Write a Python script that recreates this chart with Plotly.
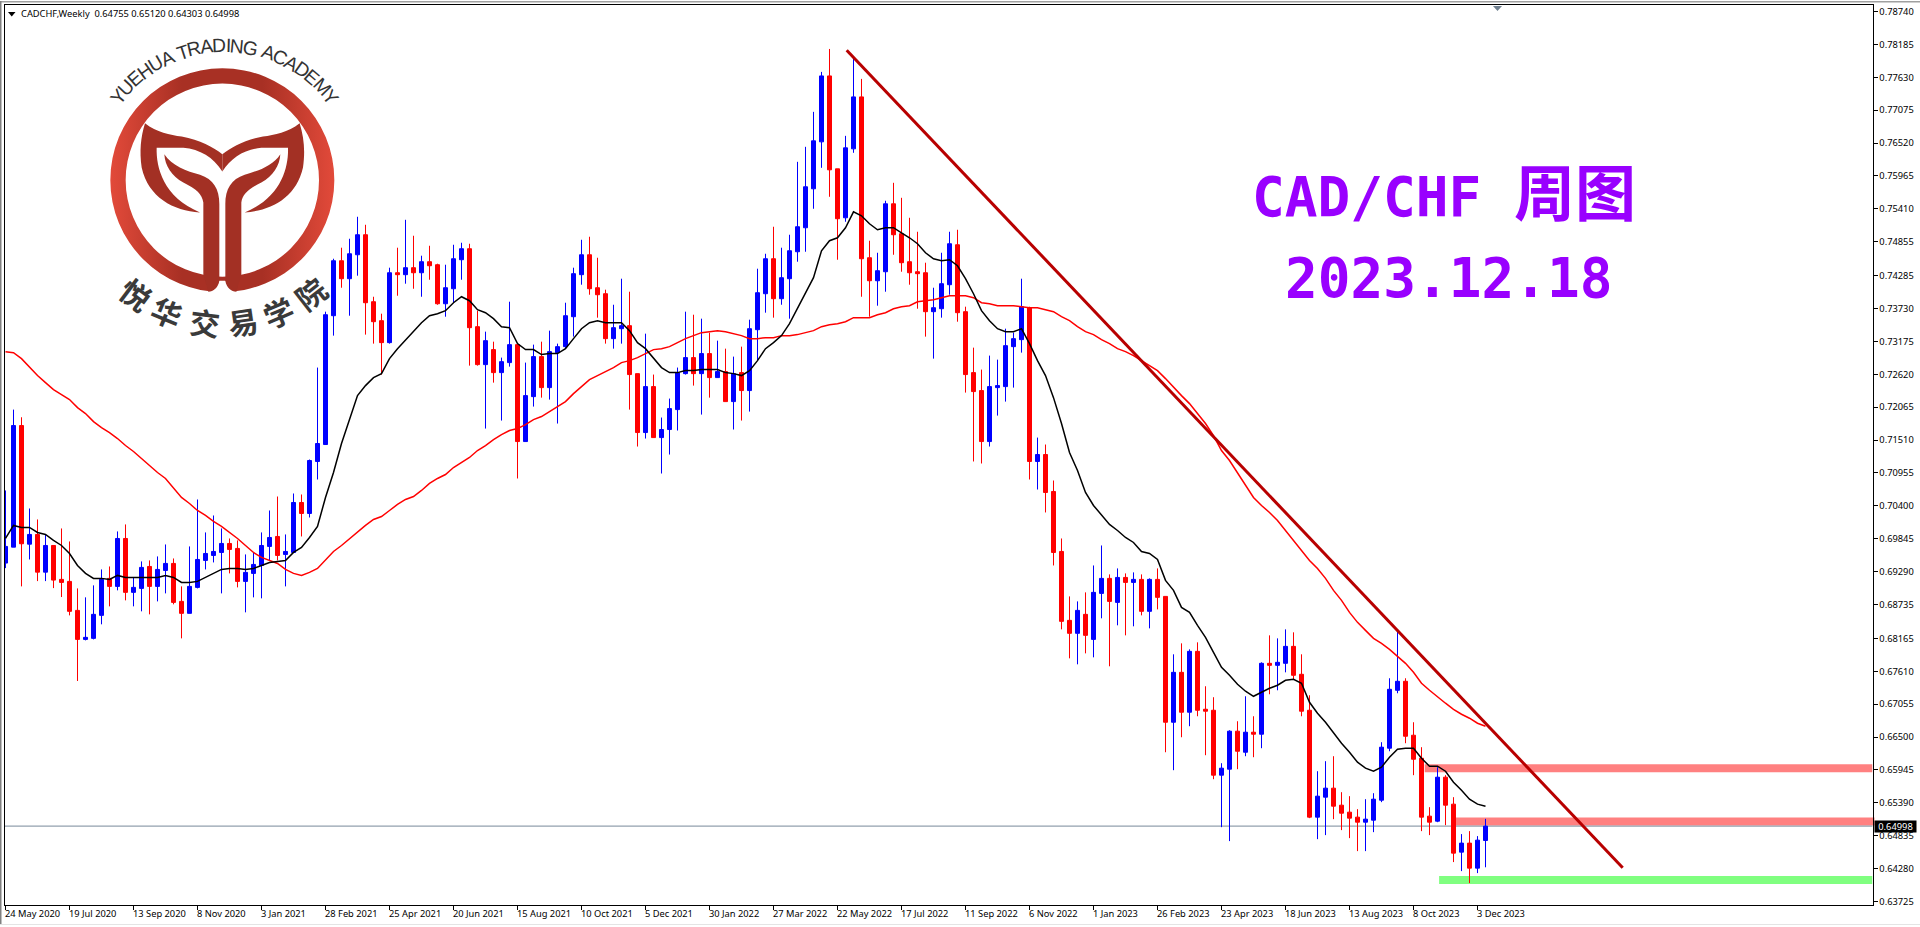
import math
import urllib.parse
import plotly.graph_objects as go

W, H = 1920, 927
K = 1.0033  # vertical calibration of the rendered page against the reference

symbol_header = "CADCHF,Weekly  0.64755 0.65120 0.64303 0.64998"
title_pair = "CAD/CHF"
title_cn = "周图"
title_date = "2023.12.18"
logo_en = "YUEHUA TRADING ACADEMY"
logo_cn = "悦华交易学院"

week_labels = ["24 May 2020","19 Jul 2020","13 Sep 2020","8 Nov 2020","3 Jan 2021","28 Feb 2021","25 Apr 2021","20 Jun 2021",
               "15 Aug 2021","10 Oct 2021","5 Dec 2021","30 Jan 2022","27 Mar 2022","22 May 2022","17 Jul 2022","11 Sep 2022",
               "6 Nov 2022","1 Jan 2023","26 Feb 2023","23 Apr 2023","18 Jun 2023","13 Aug 2023","8 Oct 2023","3 Dec 2023"]
price_ticks = [.78740,.78185,.77630,.77075,.76520,.75965,.75410,.74855,.74285,.73730,.73175,.72620,.72065,.71510,
               .70955,.70400,.69845,.69290,.68735,.68165,.67610,.67055,.66500,.65945,.65390,.64835,.64280,.63725]

opens = [.69435,.69704,.71755,.69754,.69918,.69282,.69732,.69160,.69126,.68637,
.68148,.68165,.68553,.69177,.69042,.69850,.68941,.69008,.69378,.69042,
.69311,.69429,.68789,.68587,.69025,.69480,.69564,.69614,.69766,.69682,
.69126,.69261,.69395,.69716,.69884,.69581,.69614,.70457,.70272,.71149,
.71435,.73608,.74535,.74232,.74636,.74974,.73844,.73524,.73154,.74333,
.74300,.74418,.74333,.74519,.74468,.73810,.74063,.74552,.74738,.73423,
.72783,.73036,.72648,.72817,.73120,.71485,.72243,.72918,.72395,.72985,
.73086,.73591,.74300,.74636,.74080,.73979,.73221,.73389,.73440,.72631,
.71637,.72412,.71552,.71688,.72024,.72631,.72901,.72631,.72969,.72564,
.72665,.72159,.72648,.72345,.73372,.73979,.74569,.73895,.74232,.74687,
.75092,.75749,.76541,.77653,.76086,.75260,.76423,.77299,.74586,.74198,
.74350,.75496,.74991,.74519,.74350,.74333,.73676,.73726,.74131,.74805,
.73676,.72648,.72345,.71485,.72395,.72412,.73086,.73204,.73743,.71149,
.71266,.70643,.69631,.68469,.68250,.68570,.68148,.68924,.69177,.68772,
.69193,.69109,.69160,.68621,.69160,.68873,.66750,.67592,.66919,.67946,
.66969,.66952,.65857,.65958,.66599,.66244,.66582,.66548,.67744,.67710,
.67744,.68030,.67559,.66952,.65149,.65486,.65638,.65351,.65233,.65149,
.65064,.65098,.65435,.66312,.67289,.67441,.66531,.66143,.65166,.65081,
.65823,.65368,.64559,.64711,.64289,.64755]

highs = [.70660,.72024,.71895,.70356,.70171,.69918,.69732,.70019,.69800,.69008,
.68857,.69059,.69328,.69378,.69969,.70087,.69193,.69463,.69480,.69547,
.69749,.69513,.69042,.69716,.70508,.69952,.70238,.70019,.69850,.69817,
.69581,.69614,.69952,.70322,.70558,.69918,.70609,.70592,.71182,.72733,
.73676,.74569,.74755,.74906,.75277,.75142,.73928,.73642,.74418,.74755,
.75226,.74957,.74620,.74788,.74485,.74468,.74805,.74839,.74822,.73693,
.73339,.73170,.72901,.73844,.73120,.72817,.73120,.73170,.73356,.73137,
.73827,.74418,.74889,.74940,.74586,.74047,.73793,.74232,.74013,.72631,
.73305,.72615,.71890,.72210,.72733,.73676,.73625,.73558,.73322,.73187,
.73052,.72918,.73086,.73541,.74401,.74653,.75109,.74755,.74974,.76204,
.76457,.77047,.77721,.78108,.76086,.76642,.77957,.77603,.74873,.74670,
.75547,.75850,.75597,.75260,.75024,.74502,.74080,.74670,.75024,.75058,
.73760,.73069,.72699,.72935,.72867,.73389,.73322,.74232,.73760,.71552,
.71435,.70828,.69850,.68873,.68789,.68941,.69395,.69732,.69244,.69345,
.69261,.69278,.69244,.69177,.69345,.68873,.67896,.68081,.67980,.68098,
.67357,.67172,.66059,.66615,.66767,.67188,.66851,.67761,.68216,.68165,
.68317,.68267,.67896,.67205,.65924,.66093,.66177,.65570,.65503,.65284,
.65452,.65553,.66413,.67492,.68300,.67492,.66750,.66329,.65317,.65992,
.65857,.65486,.64863,.64913,.64829,.65120]

lows = [.69350,.69704,.69042,.69496,.69131,.69131,.69013,.68862,.68553,.67446,
.68131,.68148,.68402,.68705,.68975,.68806,.68705,.68621,.68570,.68789,
.68924,.68739,.68165,.68587,.69008,.69328,.69446,.68924,.69261,.69025,
.68604,.68857,.68840,.69480,.69480,.69042,.69614,.69884,.70204,.70845,
.71427,.73272,.74080,.73608,.74283,.73289,.73137,.72615,.73137,.73945,
.74148,.74063,.73928,.74215,.73793,.73591,.73827,.74215,.72766,.72766,
.71704,.72479,.71839,.72749,.70862,.71485,.72075,.72226,.72193,.71789,
.73052,.73255,.74131,.73962,.73575,.73137,.73052,.73137,.72024,.71401,
.71536,.71552,.70946,.71266,.71671,.72615,.72429,.71940,.72226,.72564,
.72159,.71688,.71839,.71991,.72850,.73659,.73575,.73793,.73558,.74519,
.74687,.75412,.76103,.75614,.74552,.75193,.76356,.73928,.73591,.73777,
.74013,.74636,.74350,.74131,.73726,.73255,.72884,.73575,.73962,.73507,
.72311,.71149,.71115,.71401,.71923,.72159,.72395,.72985,.70845,.70676,
.70289,.69395,.68317,.67828,.67727,.67912,.67845,.68503,.67694,.68385,
.68216,.68368,.68553,.68334,.68654,.66244,.65941,.66497,.66683,.66851,
.66194,.65789,.64980,.64745,.65958,.66177,.66160,.66312,.67222,.67289,
.67592,.67475,.66851,.65132,.64778,.64846,.65115,.64930,.64795,.64576,
.64576,.64896,.65402,.66261,.67239,.66396,.65857,.64913,.64846,.65064,
.65014,.64391,.64239,.64037,.64205,.64303]

closes = [.69716,.71755,.69761,.69918,.69282,.69732,.69148,.69109,.68621,.68148,
.68182,.68570,.69160,.69042,.69850,.68941,.69025,.69362,.69042,.69328,
.69429,.68772,.68587,.69042,.69496,.69597,.69631,.69766,.69665,.69126,
.69278,.69412,.69732,.69867,.69564,.69631,.70457,.70272,.71165,.71452,
.73625,.74535,.74232,.74653,.74974,.73827,.73507,.73154,.74333,.74300,
.74418,.74333,.74519,.74451,.73810,.74080,.74569,.74738,.73406,.72783,
.73187,.72648,.72833,.73120,.71485,.72260,.72918,.72395,.73002,.73086,
.73608,.74317,.74636,.74063,.73962,.73221,.73406,.73440,.72615,.71637,
.72412,.71552,.71688,.72041,.72648,.72901,.72631,.72969,.72564,.72665,
.72159,.72631,.72345,.73389,.73996,.74569,.73895,.74249,.74704,.75109,
.75783,.76558,.77653,.76069,.75244,.76440,.77299,.74569,.74198,.74367,
.75496,.74974,.74502,.74333,.74317,.73676,.73743,.74148,.74822,.73659,
.72615,.72328,.71485,.72412,.72429,.73103,.73221,.73760,.71149,.71266,
.70626,.69614,.68452,.68250,.68637,.68216,.68941,.69177,.68789,.69193,
.69109,.69160,.68621,.69160,.68857,.66750,.67592,.66919,.67946,.66952,
.66936,.65857,.65975,.66599,.66261,.66582,.66548,.67744,.67710,.67761,
.68030,.67542,.66936,.65149,.65503,.65638,.65334,.65216,.65132,.65064,
.65115,.65452,.66329,.67306,.67441,.66514,.66126,.65149,.65064,.65823,
.65351,.64542,.64711,.64289,.64761,.64998]

ma_fast = [.69850,.70070,.70036,.70036,.69952,.69918,.69817,.69732,.69597,.69395,
.69261,.69177,.69177,.69160,.69227,.69193,.69193,.69193,.69193,.69193,
.69227,.69193,.69109,.69109,.69126,.69193,.69261,.69328,.69345,.69345,
.69328,.69345,.69395,.69446,.69463,.69480,.69614,.69699,.69867,.70053,
.70542,.70963,.71452,.71856,.72260,.72429,.72564,.72631,.72884,.73052,
.73204,.73356,.73490,.73608,.73642,.73693,.73827,.73928,.73861,.73710,
.73659,.73558,.73423,.73406,.73137,.73036,.73036,.72952,.72969,.72969,
.73052,.73221,.73389,.73490,.73524,.73490,.73490,.73490,.73356,.73154,
.73052,.72901,.72733,.72648,.72648,.72682,.72682,.72699,.72699,.72699,
.72648,.72631,.72598,.72682,.72850,.73052,.73154,.73272,.73474,.73726,
.73979,.74249,.74704,.74873,.74923,.75092,.75361,.75294,.75159,.75058,
.75092,.75092,.75007,.74923,.74822,.74670,.74569,.74535,.74552,.74451,
.74232,.73979,.73693,.73524,.73389,.73339,.73339,.73389,.73137,.72850,
.72598,.72226,.71789,.71300,.70997,.70626,.70407,.70238,.70087,.69985,
.69867,.69783,.69631,.69597,.69496,.69143,.68975,.68688,.68604,.68385,
.68182,.67930,.67677,.67542,.67391,.67273,.67188,.67256,.67323,.67374,
.67458,.67475,.67407,.67087,.66902,.66750,.66565,.66396,.66244,.66076,
.65975,.65924,.65992,.66160,.66295,.66312,.66312,.66143,.66008,.66008,
.65924,.65739,.65604,.65452,.65368,.65334]

ma_slow = [.73002,.72985,.72884,.72733,.72598,.72479,.72362,.72277,.72193,.72058,
.71957,.71822,.71721,.71637,.71536,.71418,.71317,.71199,.71081,.70963,
.70862,.70693,.70542,.70440,.70322,.70238,.70137,.70053,.69952,.69850,
.69732,.69614,.69530,.69480,.69429,.69328,.69261,.69227,.69278,.69345,
.69480,.69631,.69732,.69850,.69952,.70070,.70171,.70221,.70322,.70424,
.70508,.70558,.70660,.70778,.70862,.70929,.71047,.71132,.71216,.71334,
.71418,.71519,.71603,.71671,.71704,.71772,.71856,.71907,.71991,.72075,
.72159,.72294,.72412,.72530,.72598,.72665,.72733,.72817,.72850,.72901,
.72969,.73036,.73052,.73086,.73154,.73221,.73272,.73322,.73339,.73356,
.73339,.73305,.73272,.73221,.73221,.73238,.73238,.73272,.73272,.73289,
.73322,.73356,.73423,.73457,.73474,.73507,.73575,.73575,.73575,.73625,
.73659,.73726,.73760,.73777,.73844,.73861,.73878,.73912,.73945,.73945,
.73945,.73912,.73827,.73810,.73777,.73777,.73777,.73760,.73743,.73743,
.73710,.73676,.73591,.73524,.73423,.73339,.73289,.73204,.73137,.73052,
.73002,.72935,.72850,.72766,.72682,.72547,.72395,.72260,.72125,.71957,
.71789,.71586,.71334,.71165,.70963,.70744,.70542,.70407,.70289,.70154,
.69985,.69817,.69648,.69480,.69345,.69177,.68975,.68806,.68604,.68435,
.68300,.68165,.68081,.67980,.67862,.67744,.67592,.67407,.67289,.67172,
.67071,.66969,.66885,.66818,.66733,.66683]

trend_week = [105.15, 202.15]
trend_price = [.78086, .64295]
last_price = .64998
zones = [(177.4, .66042, .65907, "#FF8080"), (181.4, .65143, .65008, "#FF8080"), (179.2, .64155, .64020, "#80FF80")]

weeks = list(range(len(opens)))
tick_weeks = [i * 8 for i in range(len(week_labels))]

PX = 8.0
LEFT, RIGHT, TOP, BOTTOM = 4.5, 1872.5, 4.5, 904.5
x_range = [(LEFT - 5.5) / PX, (RIGHT - 5.5) / PX]
PX_PER_PRICE = 5934.0
y_range = [.7874 - (BOTTOM - 10.5) / PX_PER_PRICE, .7874 + (10.5 - TOP) / PX_PER_PRICE]

def px(x): return x / W
def py(y): return 1 - y * K / H

TEXT_FONT = dict(family="Noto Sans", size=9.3, color="#000000")

fig = go.Figure()
fig.add_trace(go.Candlestick(x=weeks, open=opens, high=highs, low=lows, close=closes,
    increasing=dict(line=dict(color="#0000FF", width=1), fillcolor="#0000FF"),
    decreasing=dict(line=dict(color="#FF0000", width=1), fillcolor="#FF0000"),
    whiskerwidth=0, showlegend=False, hoverinfo="skip"))
fig.add_trace(go.Scatter(x=weeks, y=ma_slow, mode="lines", line=dict(color="#FF0000", width=1.5), showlegend=False, hoverinfo="skip"))
fig.add_trace(go.Scatter(x=weeks, y=ma_fast, mode="lines", line=dict(color="#000000", width=1.5), showlegend=False, hoverinfo="skip"))
fig.add_trace(go.Scatter(x=trend_week, y=trend_price, mode="lines", line=dict(color="#B80000", width=3), showlegend=False, hoverinfo="skip"))

shapes = []
for i, (x0, p1, p0, col) in enumerate(zones):
    shapes.append(dict(type="rect", xref="x", yref="y", x0=x0, x1=x_range[1], y0=p0, y1=p1, fillcolor=col, line_width=0, layer="below"))
shapes[1].update(xref="paper", x0=px(1456), x1=px(1874.5))
shapes.append(dict(type="line", xref="paper", yref="y", x0=px(LEFT), x1=px(RIGHT), y0=last_price, y1=last_price, line=dict(color="#778899", width=1), layer="below"))
# window chrome
shapes.append(dict(type="rect", xref="paper", yref="paper", x0=0, x1=1, y0=py(1.5), y1=1, fillcolor="#A0A0A0", line_width=0))
shapes.append(dict(type="rect", xref="paper", yref="paper", x0=0, x1=px(1.5), y0=0, y1=1, fillcolor="#808080", line_width=0))
shapes.append(dict(type="rect", xref="paper", yref="paper", x0=0, x1=1, y0=0, y1=py(925), fillcolor="#E4E4E4", line_width=0))
# header triangles
def tri(x0, x1, y0, y1, col):
    return dict(type="path", xref="paper", yref="paper",
                path=f"M{px(x0)},{py(y0)} L{px(x1)},{py(y0)} L{px((x0+x1)/2)},{py(y1)} Z",
                fillcolor=col, line_width=0)
shapes.append(tri(8, 15.5, 11, 15.5, "#000000"))
shapes.append(tri(1493, 1502, 5, 10, "#708090"))

ann = []
for t, lab in zip(tick_weeks, week_labels):
    ann.append(dict(xref="x", yref="paper", x=t, y=py(913), text=lab, showarrow=False, xanchor="left", yanchor="middle",
                    xshift=-3, font=TEXT_FONT))
ann.append(dict(xref="paper", yref="paper", x=px(19), y=py(12.5), text=symbol_header.replace("  ", "&nbsp;&nbsp;"), showarrow=False,
                xanchor="left", yanchor="middle", font=TEXT_FONT))
ann.append(dict(xref="paper", yref="y", x=px(1874), y=last_price, text="0.64998", showarrow=False, xanchor="left", yanchor="middle",
                bgcolor="#000000", font=dict(family="Noto Sans", size=9.3, color="#FFFFFF"), borderpad=0, width=41, height=11, align="center"))
PURPLE = "#9900FF"
TITLE_FONT = dict(family="DejaVu Sans Mono, Noto Sans CJK SC", size=54.4, color=PURPLE, weight="bold")
ann.append(dict(xref="paper", yref="paper", x=px(1250), y=py(194), text=f'{title_pair} <span style="font-size:61px">{title_cn}</span>',
                showarrow=False, xanchor="left", yanchor="middle", font=TITLE_FONT))
ann.append(dict(xref="paper", yref="paper", x=px(1283), y=py(278), text=title_date, showarrow=False, xanchor="left", yanchor="middle", font=TITLE_FONT))

# logo lettering on arcs around the emblem centre
CX, CY = 222.3, 179.5
widths = dict(Y=.667, U=.722, E=.667, H=.722, A=.667, T=.611, R=.722, D=.722, I=.278, N=.722, G=.778, C=.722, M=.833)
widths[" "] = .278
total = sum(widths[c] for c in logo_en)
span = math.radians(109)
pos = 0.0
for c in logo_en:
    w = widths[c]
    a = -span / 2 + span * (pos + w / 2) / total
    pos += w
    if c == " ":
        continue
    ann.append(dict(xref="paper", yref="paper", x=px(CX + 2 + 135 * math.sin(a)), y=py(CY - 135 * math.cos(a)), text=c, showarrow=False,
                    xanchor="center", yanchor="middle", textangle=math.degrees(a),
                    font=dict(family="Liberation Sans", size=19.3, color="#333333")))
for c, deg in zip(logo_cn, [37, 22.6, 7, -8.5, -23, -38]):
    a = math.radians(deg)
    ann.append(dict(xref="paper", yref="paper", x=px(CX - 142.7 * math.sin(a)), y=py(CY + 142.7 * math.cos(a)), text=c, showarrow=False,
                    xanchor="center", yanchor="middle", textangle=deg,
                    font=dict(family="Noto Sans CJK SC", size=30, color="#3A3A3A", weight="bold")))

stem = "M610,822 L610,605 C606,580 590,565 550,545 C515,525 495,495 493,460 C515,495 560,510 600,522 C640,535 658,565 658,610 L658,840 C655,860 640,873 625,873 Z"
tail = "M435,367 C470,395 510,402 545,407 C600,417 640,440 667,460 L667,512 C640,470 600,445 550,441 L470,441 C468,500 490,590 600,635 C520,630 445,590 425,500 C418,450 422,410 435,367 Z"
svg = f'''<svg xmlns="http://www.w3.org/2000/svg" width="480" height="464" viewBox="0 0 1440 1392">
<defs><linearGradient id="g" x1="0" x2="1" y1="0" y2="0"><stop offset="0" stop-color="#E24A3A"/><stop offset=".32" stop-color="#A83024"/><stop offset=".68" stop-color="#A83024"/><stop offset="1" stop-color="#E24A3A"/></linearGradient></defs>
<path fill="url(#g)" fill-rule="evenodd" d="M331,538 a336,336 0 1,0 672,0 a336,336 0 1,0 -672,0 Z M377,538 a290,290 0 1,0 580,0 a290,290 0 1,0 -580,0 Z"/>
<path fill="#FFFFFF" d="M625,873 L625,885 L709,885 L709,873 L676,840 L658,840 Z"/>
<g fill="#A33024"><path d="{stem}"/><path d="{tail}"/><g transform="translate(1334,0) scale(-1,1)"><path d="{stem}"/><path d="{tail}"/></g></g>
</svg>'''
logo_uri = "data:image/svg+xml;charset=utf-8," + urllib.parse.quote(svg)

fig.update_layout(
    width=W, height=H, margin=dict(l=0, r=0, t=0, b=0), autosize=False,
    paper_bgcolor="#FFFFFF", plot_bgcolor="#FFFFFF", showlegend=False, boxgap=0.5, boxgroupgap=0,
    xaxis=dict(domain=[px(LEFT), px(RIGHT)], range=x_range, rangeslider=dict(visible=False), showgrid=False, zeroline=False,
               tickmode="array", tickvals=tick_weeks, ticktext=[""] * len(tick_weeks), ticks="outside", ticklen=4, tickwidth=1, tickcolor="#000000",
               showline=True, linecolor="#000000", linewidth=1, mirror=True),
    yaxis=dict(domain=[py(BOTTOM), py(TOP)], range=y_range, side="right", showgrid=False, zeroline=False,
               tickmode="array", tickvals=price_ticks, ticktext=[f"{p:.5f}" for p in price_ticks], ticks="outside", ticklen=4, tickwidth=1, tickcolor="#000000",
               tickfont=TEXT_FONT, showline=True, linecolor="#000000", linewidth=1, mirror=True),
    shapes=shapes, annotations=ann,
    images=[dict(source=logo_uri, xref="paper", yref="paper", x=0, y=1, sizex=480 / W, sizey=464 * K / H, sizing="stretch", xanchor="left", yanchor="top", layer="below")],
)
fig.write_html("out.html", config=dict(displayModeBar=False),
               post_script="document.documentElement.style.cssText='margin:0;height:927px;overflow:hidden';document.body.style.cssText='margin:0;height:927px;overflow:hidden';var d=document.querySelector('.plotly-graph-div');d.style.position='fixed';d.style.left='0';d.style.top='0';")
